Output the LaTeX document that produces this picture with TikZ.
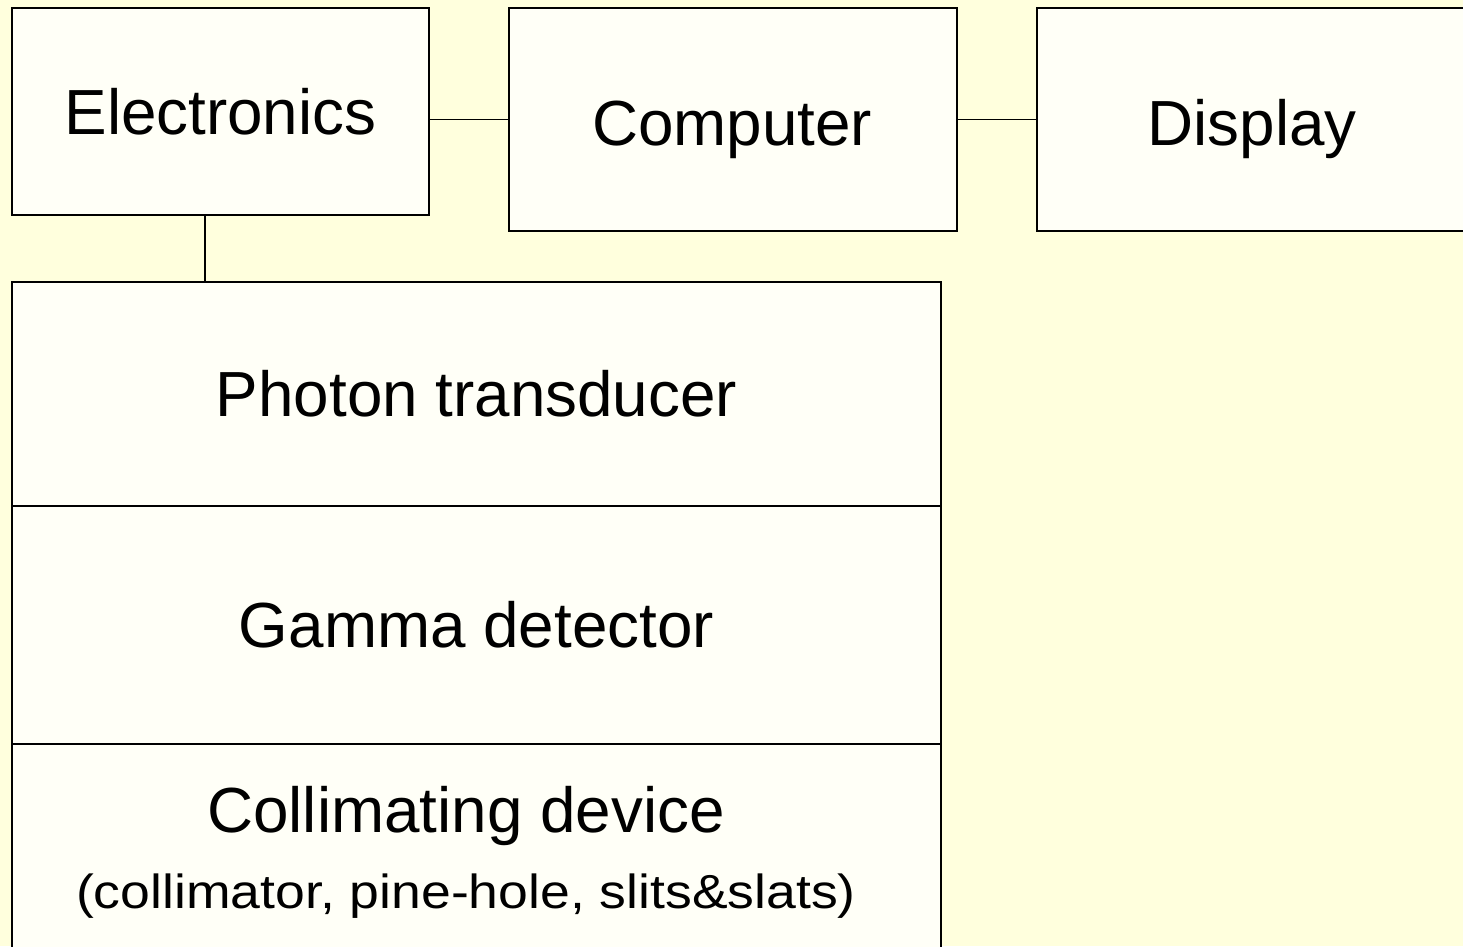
\documentclass[tikz,border=0pt]{standalone}
\usepackage{fontspec}
\setmainfont{Liberation Sans}
\definecolor{pagebg}{RGB}{255,255,221}
\definecolor{boxfill}{RGB}{255,255,247}
\tikzset{
  blk/.style={draw=black, fill=boxfill, line width=1.8bp, rectangle, inner sep=0pt,
              font=\fontsize{64}{70}\selectfont},
  wire/.style={draw=black, line width=1.6bp},
  bigtext/.style={font=\fontsize{64}{70}\selectfont, inner sep=0pt},
  smalltext/.style={font=\fontsize{48}{54}\selectfont, inner sep=0pt, xscale=1.12}
}
\begin{document}
\begin{tikzpicture}[x=1bp, y=-1bp]
  \fill[pagebg] (0,0) rectangle (1463,946);
  \clip (0,0) rectangle (1463,946);
  \useasboundingbox (0,0) rectangle (1463,946);

  % top row
  \node[blk, minimum width=417bp, minimum height=207bp, anchor=north west] (elec) at (11,7) {Electronics};
  \node[blk, minimum width=448bp, minimum height=223bp, anchor=north west] (comp) at (508,7) {};
  \node[blk, minimum width=432bp, minimum height=223bp, anchor=north west] (disp) at (1036,7) {};
  \node[bigtext, anchor=base] (compT) at (732,145) {Computer};
  \node[bigtext, anchor=base] (dispT) at (1252,145) {Display};

  % detector stack
  \node[blk, minimum width=929bp, minimum height=224bp, anchor=north west] (photon) at (11,281) {Photon transducer};
  \node[blk, minimum width=929bp, minimum height=238bp, anchor=north west] (gamma) at (11,505) {Gamma detector};
  \node[blk, minimum width=929bp, minimum height=230bp, anchor=north west] (collim) at (11,743) {};
  \node[bigtext, anchor=base] (collimA) at (466,832) {Collimating device};
  \node[smalltext, anchor=base] (collimB) at (466,908) {(collimator, pine-hole, slits\&slats)};

  % connections
  \draw[wire] (elec.east |- comp.west) -- (comp.west);
  \draw[wire] (comp.east) -- (disp.west);
  \draw[wire] ([xshift=-15.5bp]elec.south) -- ([xshift=-15.5bp]elec.south |- photon.north);
\end{tikzpicture}
\end{document}
